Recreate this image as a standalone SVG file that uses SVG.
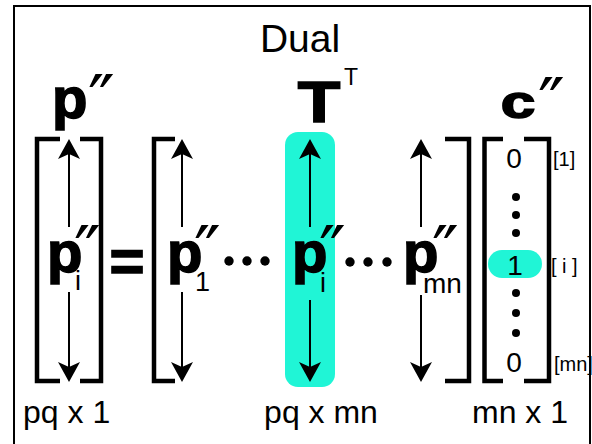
<svg xmlns="http://www.w3.org/2000/svg" width="592" height="444" viewBox="0 0 592 444">
<style>
.brk{fill:none;stroke:#000;stroke-width:4.5;stroke-linejoin:miter}
.shaft{fill:none;stroke:#000;stroke-width:2}
.big{font-family:"Liberation Sans",Arial,sans-serif;font-weight:bold;fill:#000;stroke:#000;stroke-width:1.6}
.reg{font-family:"Liberation Sans",Arial,sans-serif;fill:#000}
.prime{font-family:"DejaVu Sans",sans-serif;fill:#000;font-size:72px}
.dot{fill:#000}
.idx{font-family:"Liberation Sans",Arial,sans-serif;fill:#000;font-size:20px}
</style>
<defs>
<marker id="ah" markerUnits="userSpaceOnUse" markerWidth="40" markerHeight="40" refX="-6" refY="0" orient="auto" overflow="visible">
<path d="M0,0 L-20,-11 L-15,0 L-20,11 Z" fill="#000"/>
</marker>
</defs>
<rect x="14" y="6" width="576" height="450" fill="#fff" stroke="#000" stroke-width="2"/>
<text class="reg" x="300" y="52" font-size="39" text-anchor="middle">Dual</text>

<g id="cyan-column">
<rect x="285" y="132" width="50" height="255" rx="13" fill="#20F5D6"/>
</g>

<g id="p-vector">
<text class="big" x="52" y="118" font-size="58">p</text>
<text class="prime" x="88" y="126">″</text>
<path class="brk" d="M60,139 H37 V381 H60"/>
<path class="brk" d="M80,139 H101 V381 H80"/>
<text class="big" x="47" y="272" font-size="58">p</text>
<text class="prime" x="74" y="277">″</text>
<text class="reg" x="75" y="290" font-size="27">i</text>
</g>

<g id="equals">
<text class="big" x="127" y="281" font-size="60" text-anchor="middle">=</text>
</g>

<g id="T-matrix">
<text class="big" x="0" y="122" font-size="58" text-anchor="middle" stroke-width="2.4" transform="translate(319,0) scale(1.2,1)">T</text>
<text class="reg" x="351" y="85" font-size="23" text-anchor="middle">T</text>
<path class="brk" d="M175,139 H154 V381 H175"/>
<path class="brk" d="M445,139 H469 V381 H445"/>
<text class="big" x="167" y="272" font-size="58">p</text>
<text class="prime" x="194" y="277">″</text>
<text class="reg" x="195" y="291" font-size="27">1</text>
<circle class="dot" cx="229" cy="261" r="4.7"/>
<circle class="dot" cx="247" cy="261" r="4.7"/>
<circle class="dot" cx="265" cy="261" r="4.7"/>
<text class="big" x="292" y="272" font-size="58">p</text>
<text class="prime" x="319" y="277">″</text>
<text class="reg" x="320" y="292" font-size="27">i</text>
<circle class="dot" cx="350" cy="262" r="4.7"/>
<circle class="dot" cx="368" cy="262" r="4.7"/>
<circle class="dot" cx="387" cy="262" r="4.7"/>
<text class="big" x="403" y="272" font-size="58">p</text>
<text class="prime" x="432" y="277">″</text>
<text class="reg" x="423" y="293" font-size="28">mn</text>
</g>

<g id="c-vector">
<text class="big" x="0" y="118" font-size="46" text-anchor="middle" stroke-width="2.4" transform="translate(518,0) scale(1.35,1)">c</text>
<text class="prime" x="538" y="129">″</text>
<path class="brk" d="M503,139 H484.5 V381 H503"/>
<path class="brk" d="M524,139 H549 V381 H524"/>
<text class="reg" x="514" y="168" font-size="28" text-anchor="middle">0</text>
<circle class="dot" cx="516" cy="197" r="4"/>
<circle class="dot" cx="516" cy="215" r="4"/>
<circle class="dot" cx="516" cy="233" r="4"/>
<rect x="488" y="250" width="54" height="28" rx="14" fill="#20F5D6"/>
<text class="reg" x="515" y="275" font-size="28" text-anchor="middle">1</text>
<circle class="dot" cx="516" cy="293" r="4"/>
<circle class="dot" cx="516" cy="313" r="4"/>
<circle class="dot" cx="516" cy="333" r="4"/>
<text class="reg" x="514" y="372" font-size="28" text-anchor="middle">0</text>
<text class="idx" x="553" y="166">[1]</text>
<text class="idx" x="551" y="273" xml:space="preserve">[ i ]</text>
<text class="idx" x="554" y="371">[mn]</text>
</g>

<g id="dimension-labels">
<text class="reg" x="23" y="423" font-size="32">pq x 1</text>
<text class="reg" x="321" y="423" font-size="32" text-anchor="middle">pq x mn</text>
<text class="reg" x="520" y="423" font-size="32" text-anchor="middle">mn x 1</text>
</g>

<g id="connectors">
<line class="shaft" x1="69" y1="227" x2="69" y2="145" marker-end="url(#ah)"/>
<line class="shaft" x1="69" y1="292" x2="69" y2="376" marker-end="url(#ah)"/>
<line class="shaft" x1="182" y1="227" x2="182" y2="145" marker-end="url(#ah)"/>
<line class="shaft" x1="182" y1="292" x2="182" y2="376" marker-end="url(#ah)"/>
<line class="shaft" x1="310" y1="227" x2="310" y2="145" marker-end="url(#ah)"/>
<line class="shaft" x1="310" y1="300" x2="310" y2="376" marker-end="url(#ah)"/>
<line class="shaft" x1="421" y1="227" x2="421" y2="145" marker-end="url(#ah)"/>
<line class="shaft" x1="421" y1="295" x2="421" y2="376" marker-end="url(#ah)"/>
</g>
</svg>
